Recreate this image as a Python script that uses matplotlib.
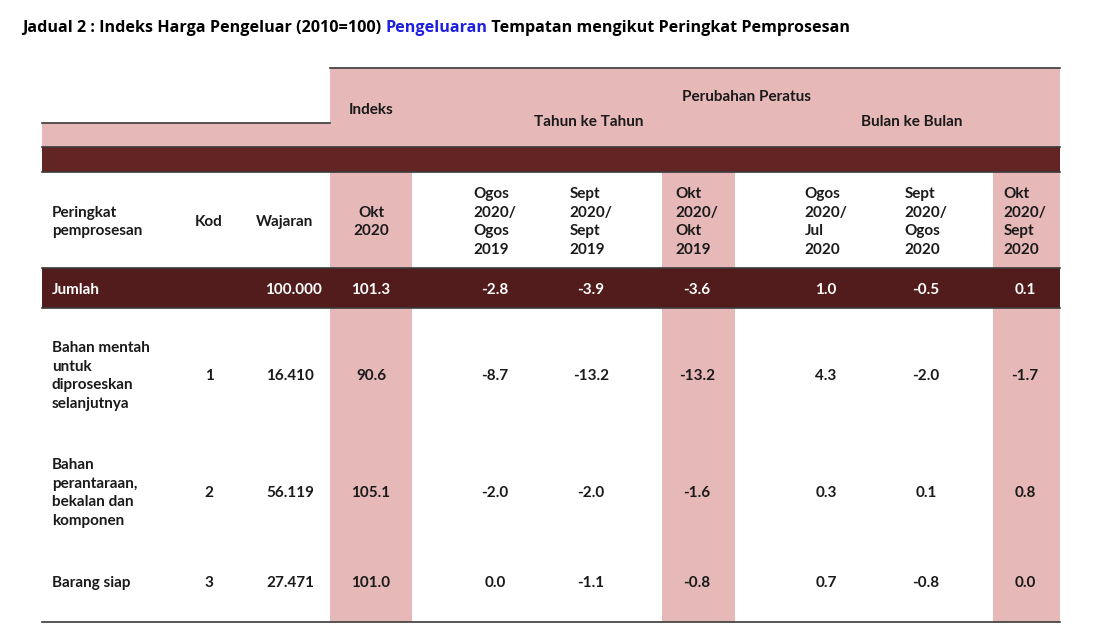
import matplotlib
matplotlib.use('Agg')
from matplotlib import pyplot as plt
from matplotlib.patches import Rectangle

# data
col_headers = ['Okt\n2020', 'Ogos\n2020/\nOgos\n2019', 'Sept\n2020/\nSept\n2019', 'Okt\n2020/\nOkt\n2019',
               'Ogos\n2020/\nJul\n2020', 'Sept\n2020/\nOgos\n2020', 'Okt\n2020/\nSept\n2020']
row_names = ['Bahan mentah\nuntuk\ndiproseskan\nselanjutnya', 'Bahan\nperantaraan,\nbekalan dan\nkomponen', 'Barang siap']
row_kod = ['1', '2', '3']
row_wajaran = ['16.410', '56.119', '27.471']
row_values = [
    ['90.6', '-8.7', '-13.2', '-13.2', '4.3', '-2.0', '-1.7'],
    ['105.1', '-2.0', '-2.0', '-1.6', '0.3', '0.1', '0.8'],
    ['101.0', '0.0', '-1.1', '-0.8', '0.7', '-0.8', '0.0'],
]
total_label = 'Jumlah'
total_wajaran = '100.000'
total_values = ['101.3', '-2.8', '-3.9', '-3.6', '1.0', '-0.5', '0.1']

PINK = '#e6b8b7'
DARK = '#632523'
DARK2 = '#521c1c'
LINE = '#3a3a3a'
FONT = 'Lato'

fig = plt.figure(figsize=(11, 6.42), dpi=100)
ax = fig.add_axes([0, 0, 1, 1])
ax.set_xlim(0, 1100)
ax.set_ylim(642, 0)
ax.axis('off')

# title, drawn piecewise so one word can be blue
title_parts = [('Jadual 2 : Indeks Harga Pengeluar (2010=100) ', 'black'),
               ('Pengeluaran', '#1f1fe0'),
               (' Tempatan mengikut Peringkat Pemprosesan', 'black')]
fig.canvas.draw()
r = fig.canvas.get_renderer()
x = 22
for txt, c in title_parts:
    t = ax.text(x, 28, txt, color=c, fontsize=11.6, fontweight='bold', family='Open Sans', va='center', ha='left')
    bb = t.get_window_extent(renderer=r)
    x += bb.width

# backgrounds
ax.add_patch(Rectangle((330, 68), 730, 79, color=PINK, lw=0))
ax.add_patch(Rectangle((42, 123), 288, 24, color=PINK, lw=0))
ax.add_patch(Rectangle((42, 147), 1018, 25, color=DARK, lw=0))
strips = [(330, 82), (662, 73), (993, 67)]
for x0, w in strips:
    ax.add_patch(Rectangle((x0, 172), w, 96, color=PINK, lw=0))
    ax.add_patch(Rectangle((x0, 308), w, 314, color=PINK, lw=0))
ax.add_patch(Rectangle((42, 268), 1018, 40, color=DARK2, lw=0))

for y, x0, x1 in [(68, 330, 1060), (123, 42, 330), (147, 42, 1060), (172, 42, 1060),
                  (268, 42, 1060), (308, 42, 1060), (622, 42, 1060)]:
    ax.plot([x0, x1], [y, y], color=LINE, lw=1.2)

kw = dict(fontsize=11, fontweight='bold', family=FONT, color='#1a1a1a')

# group headers
ax.text(371, 110, 'Indeks', ha='center', va='center', **kw)
ax.text(746, 97, 'Perubahan Peratus', ha='center', va='center', **kw)
ax.text(589, 122, 'Tahun ke Tahun', ha='center', va='center', **kw)
ax.text(912, 122, 'Bulan ke Bulan', ha='center', va='center', **kw)

# column headers
col_x = [371, 495, 591, 697, 826, 926, 1025]
ax.text(52, 222, 'Peringkat\npemprosesan', ha='left', va='center', linespacing=1.45, **kw)
ax.text(209, 222, 'Kod', ha='center', va='center', **kw)
ax.text(285, 222, 'Wajaran', ha='center', va='center', **kw)
for cx, h in zip(col_x, col_headers):
    ax.text(cx, 222, h, ha='center', va='center', multialignment='left' if cx != 371 else 'center',
            linespacing=1.45, **kw)

# total row
wkw = dict(kw, color='white')
ax.text(52, 290, total_label, ha='left', va='center', **wkw)
ax.text(322, 290, total_wajaran, ha='right', va='center', **wkw)
for cx, v in zip(col_x, total_values):
    ax.text(cx, 290, v, ha='center', va='center', **wkw)

# body rows
row_y = [376, 493, 583]
for ry, name, kod, waj, vals in zip(row_y, row_names, row_kod, row_wajaran, row_values):
    ax.text(52, ry, name, ha='left', va='center', linespacing=1.45, **kw)
    ax.text(209, ry, kod, ha='center', va='center', **kw)
    ax.text(314, ry, waj, ha='right', va='center', **kw)
    for cx, v in zip(col_x, vals):
        ax.text(cx, ry, v, ha='center', va='center', **kw)

fig.savefig('out.png', dpi=100)
